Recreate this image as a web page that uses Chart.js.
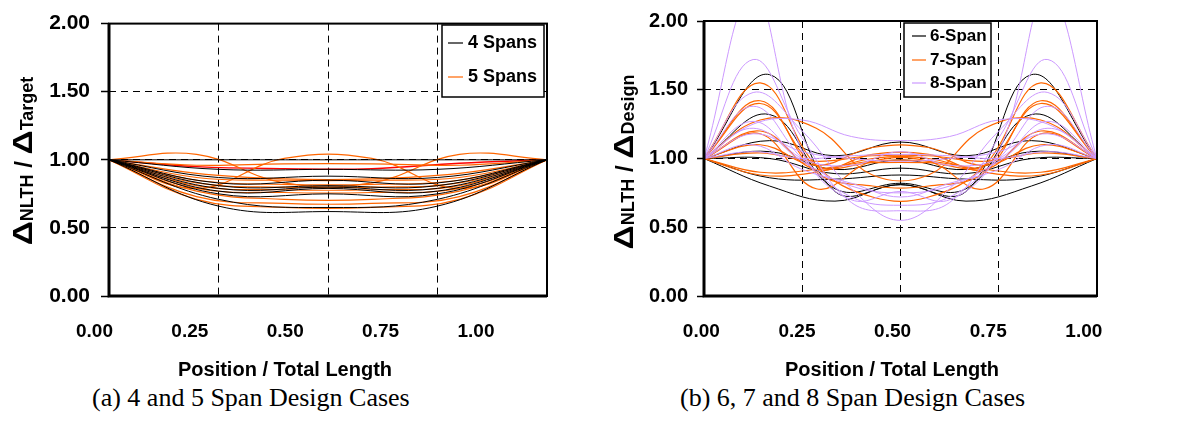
<!DOCTYPE html>
<html>
<head>
<meta charset="utf-8">
<script src="https://cdn.jsdelivr.net/npm/chart.js@4.4.0/dist/chart.umd.min.js"></script>
<style>
  body { margin: 0; background: #fff; width: 1181px; height: 426px; position: relative; overflow: hidden; }
  canvas { position: absolute; top: 0; }
  #c1 { left: 0; }
  #c2 { left: 590px; }
  .cap { position: absolute; top: 383px; font-family: "Liberation Serif", "Times New Roman", serif; font-size: 26px; line-height: 30px; white-space: nowrap; color: #000; }
</style>
</head>
<body>
<canvas id="c1" width="590" height="380"></canvas>
<canvas id="c2" width="591" height="380"></canvas>
<div class="cap" style="left:92px">(a) 4 and 5 Span Design Cases</div>
<div class="cap" style="left:680px">(b) 6, 7 and 8 Span Design Cases</div>
<script>
// axis ticks
const X_TICKS = [0, 0.25, 0.5, 0.75, 1];
const Y_TICKS = [0, 0.5, 1, 1.5, 2];

// (a) 4 spans - node positions and ratios
const X4 = [0, 0.25, 0.5, 0.75, 1];
const SPAN4 = [
  [1, 1.00, 1.00, 1.00, 1],
  [1, 0.93, 0.93, 0.93, 1],
  [1, 0.87, 0.88, 0.87, 1],
  [1, 0.83, 0.85, 0.83, 1],
  [1, 0.81, 0.81, 0.81, 1],
  [1, 0.79, 0.80, 0.79, 1],
  [1, 0.77, 0.79, 0.77, 1],
  [1, 0.75, 0.75, 0.75, 1],
  [1, 0.71, 0.65, 0.71, 1],
  [1, 0.66, 0.62, 0.66, 1]
];

// (a) 5 spans
const X5 = [0, 0.2, 0.4, 0.6, 0.8, 1];
const SPAN5 = [
  [1, 1.04, 0.83, 0.83, 1.04, 1],
  [1, 0.79, 1.01, 1.01, 0.79, 1],
  [1, 0.96, 0.97, 0.97, 0.96, 1],
  [1, 0.90, 0.86, 0.86, 0.90, 1],
  [1, 0.87, 0.85, 0.85, 0.87, 1],
  [1, 0.85, 0.82, 0.82, 0.85, 1],
  [1, 0.83, 0.80, 0.80, 0.83, 1],
  [1, 0.81, 0.78, 0.78, 0.81, 1],
  [1, 0.79, 0.76, 0.76, 0.79, 1],
  [1, 0.77, 0.71, 0.71, 0.77, 1],
  [1, 0.73, 0.68, 0.68, 0.73, 1],
  [1, 0.71, 0.65, 0.65, 0.71, 1]
];
const SPAN5_RED = [1, 0.95, 0.935, 0.935, 0.975, 1];

// (b) 6 spans
const X6 = [0, 0.1667, 0.3333, 0.5, 0.6667, 0.8333, 1];
const SPAN6 = [
  [1, 1.61, 0.76, 0.81, 0.76, 1.61, 1],
  [1, 1.32, 0.78, 0.82, 0.78, 1.32, 1],
  [1, 1.13, 1.02, 1.12, 1.02, 1.13, 1],
  [1, 1.05, 0.92, 0.99, 0.92, 1.05, 1],
  [1, 1.00, 0.89, 0.93, 0.89, 1.00, 1],
  [1, 0.86, 0.85, 0.88, 0.85, 0.86, 1],
  [1, 0.80, 0.69, 0.81, 0.69, 0.80, 1]
];

// (b) 7 spans
const X7 = [0, 0.1429, 0.2857, 0.4286, 0.5714, 0.7143, 0.8571, 1];
const SPAN7 = [
  [1, 1.55, 0.95, 0.72, 0.72, 0.95, 1.55, 1],
  [1, 1.42, 0.90, 0.80, 0.80, 0.90, 1.42, 1],
  [1, 1.40, 0.95, 0.97, 0.97, 0.95, 1.40, 1],
  [1, 1.28, 1.22, 0.88, 0.88, 1.22, 1.28, 1],
  [1, 1.20, 0.92, 1.03, 1.03, 0.92, 1.20, 1],
  [1, 1.18, 0.78, 0.98, 0.98, 0.78, 1.18, 1],
  [1, 1.10, 0.95, 1.08, 1.08, 0.95, 1.10, 1],
  [1, 1.04, 0.98, 1.02, 1.02, 0.98, 1.04, 1],
  [1, 0.90, 0.92, 0.98, 0.98, 0.92, 0.90, 1],
  [1, 0.88, 0.90, 1.00, 1.00, 0.90, 0.88, 1]
];

// (b) 8 spans
const X8 = [0, 0.125, 0.25, 0.375, 0.5, 0.625, 0.75, 0.875, 1];
const SPAN8 = [
  [1, 2.20, 1.05, 0.70, 0.76, 0.70, 1.05, 2.20, 1],
  [1, 1.72, 1.15, 0.68, 0.62, 0.68, 1.15, 1.72, 1],
  [1, 1.48, 1.20, 0.78, 0.55, 0.78, 1.20, 1.48, 1],
  [1, 1.38, 1.00, 0.72, 0.66, 0.72, 1.00, 1.38, 1],
  [1, 1.25, 1.28, 1.16, 1.13, 1.16, 1.28, 1.25, 1],
  [1, 1.27, 1.00, 0.95, 1.05, 0.95, 1.00, 1.27, 1],
  [1, 1.22, 0.98, 0.80, 0.75, 0.80, 0.98, 1.22, 1],
  [1, 1.18, 1.05, 1.00, 0.98, 1.00, 1.05, 1.18, 1],
  [1, 1.10, 0.92, 0.82, 0.72, 0.82, 0.92, 1.10, 1],
  [1, 1.05, 1.00, 1.02, 1.03, 1.02, 1.00, 1.05, 1]
];

const FONT = '"Liberation Sans", Arial, sans-serif';
const BLACK = "#000000", ORANGE = "#FF6600", RED = "#FF0000", LAVENDER = "#CC99FF";

Chart.defaults.font.family = FONT;
Chart.defaults.color = "#000";

function series(xs, rows, color, width) {
  return rows.map(r => ({
    data: xs.map((x, i) => ({ x: x, y: r[i] })),
    borderColor: color,
    borderWidth: width,
    pointRadius: 0,
    tension: 0.4,
    fill: false
  }));
}

const setTicks = list => s => { s.ticks = list.map(v => ({ value: v })); };

// frame round the plot area
const framePlugin = {
  id: "frame",
  afterDatasetsDraw(chart) {
    const { ctx, chartArea: a } = chart;
    ctx.save();
    ctx.strokeStyle = "#000";
    ctx.lineWidth = 2;
    ctx.strokeRect(a.left, a.top, a.right - a.left, a.bottom - a.top);
    ctx.lineWidth = 3;
    ctx.beginPath();
    ctx.moveTo(a.left, a.top);
    ctx.lineTo(a.left, a.bottom);
    ctx.lineTo(a.right, a.bottom);
    ctx.stroke();
    ctx.restore();
  }
};

function legendPlugin(cfg) {
  return {
    id: "boxLegend",
    afterDraw(chart) {
      const ctx = chart.ctx;
      const [bx, by, bw, bh] = cfg.box;
      ctx.save();
      ctx.fillStyle = "#fff";
      ctx.fillRect(bx, by, bw, bh);
      ctx.strokeStyle = "#000";
      ctx.lineWidth = 1.5;
      ctx.strokeRect(bx, by, bw, bh);
      ctx.font = "bold " + cfg.size + "px " + FONT;
      ctx.textBaseline = "middle";
      ctx.textAlign = "left";
      cfg.items.forEach((it, i) => {
        const y = cfg.rows[i];
        ctx.strokeStyle = it.color;
        ctx.lineWidth = 1.2;
        ctx.beginPath();
        ctx.moveTo(cfg.line[0], y);
        ctx.lineTo(cfg.line[1], y);
        ctx.stroke();
        ctx.fillStyle = "#000";
        ctx.fillText(it.label, cfg.textX, y);
      });
      ctx.restore();
    }
  };
}

// text runs along one baseline; sx stretches a run sideways
function drawRich(ctx, segs) {
  let total = 0;
  segs.forEach(s => { ctx.font = s.font; s.w = ctx.measureText(s.t).width * (s.sx || 1); total += s.w; });
  let x = -total / 2;
  segs.forEach(s => {
    ctx.font = s.font;
    ctx.save();
    ctx.translate(x, s.dy || 0);
    ctx.scale(s.sx || 1, 1);
    ctx.fillText(s.t, 0, 0);
    ctx.restore();
    x += s.w;
  });
}

function titlesPlugin(cfg) {
  return {
    id: "titles",
    afterDraw(chart) {
      const ctx = chart.ctx;
      ctx.save();
      ctx.fillStyle = "#000";
      // x title
      ctx.font = "bold 20px " + FONT;
      ctx.textAlign = "center";
      ctx.textBaseline = "middle";
      ctx.fillText("Position / Total Length", cfg.xTitle[0], cfg.xTitle[1]);
      // y title with subscripts
      ctx.translate(cfg.yTitle[0], cfg.yTitle[1]);
      ctx.rotate(-Math.PI / 2);
      ctx.textAlign = "left";
      ctx.textBaseline = "alphabetic";
      const big = "bold 28px " + FONT, small = "bold 18px " + FONT;
      drawRich(ctx, [
        { t: "\u0394", font: big, sx: 1.2 },
        { t: "NLTH", font: small, dy: 1 },
        { t: " / ", font: "bold 24px " + FONT },
        { t: "\u0394", font: big, sx: 1.2 },
        { t: cfg.sub, font: small, dy: 1 }
      ]);
      ctx.restore();
    }
  };
}

function makeChart(id, datasets, o) {
  return new Chart(document.getElementById(id), {
    type: "line",
    data: { datasets: datasets },
    options: {
      responsive: false,
      animation: false,
      events: [],
      layout: { padding: { top: 19, right: o.padRight, left: 0, bottom: 0 } },
      plugins: { legend: { display: false }, tooltip: { enabled: false } },
      scales: {
        x: {
          type: "linear", min: 0, max: 1, position: "bottom",
          afterBuildTicks: setTicks(X_TICKS),
          ticks: { display: false },
          grid: { color: "#000", lineWidth: 1, drawTicks: false },
          border: { display: false, dash: [7, 5] },
          afterFit: s => { s.height = 0; }
        },
        xl: {
          type: "linear", min: o.lab[0], max: o.lab[1], position: "bottom",
          afterBuildTicks: setTicks(X_TICKS),
          ticks: {
            autoSkip: false, maxRotation: 0, padding: 16, color: "#000",
            font: { family: FONT, size: 19, weight: "bold" },
            callback: v => v.toFixed(2)
          },
          grid: { display: false },
          border: { display: false },
          afterFit: s => { s.height = 84; }
        },
        y: {
          type: "linear", min: 0, max: 2,
          afterBuildTicks: setTicks(Y_TICKS),
          ticks: {
            padding: o.yPad, color: "#000",
            font: { family: FONT, size: o.ySize, weight: "bold" },
            callback: v => v.toFixed(2)
          },
          grid: { color: "#000", lineWidth: 1, drawTicks: true, tickLength: o.tickLen, tickColor: "#000", tickWidth: 1.5, tickBorderDash: [] },
          border: { display: false, dash: [7, 5] },
          afterFit: s => { s.width = o.yWidth; }
        }
      }
    },
    plugins: [framePlugin, legendPlugin(o.legend), titlesPlugin(o.titles)]
  });
}

// (a)
makeChart("c1",
  [].concat(
    series(X4, SPAN4, BLACK, 1),
    series(X5, SPAN5, ORANGE, 1.2),
    series(X5, [SPAN5_RED], RED, 1.4)
  ),
  {
    padRight: 43, yWidth: 109, yPad: 11, tickLen: 8, ySize: 21,
    lab: [0.0381, 1.1862],
    legend: {
      box: [442, 25, 102, 72], rows: [43, 77], line: [448, 463], textX: 468, size: 18,
      items: [{ label: "4 Spans", color: BLACK }, { label: "5 Spans", color: ORANGE }]
    },
    titles: { xTitle: [285, 370], yTitle: [32, 161], sub: "Target" }
  }
);

// (b)
makeChart("c2",
  [].concat(
    series(X8, SPAN8, LAVENDER, 1),
    series(X7, SPAN7, ORANGE, 1.2),
    series(X6, SPAN6, BLACK, 1)
  ),
  {
    padRight: 84, yWidth: 114, yPad: 9, tickLen: 7, ySize: 20,
    lab: [0.0069, 1.0344],
    legend: {
      box: [314, 23, 87, 74], rows: [36, 60, 83], line: [322, 336], textX: 340, size: 17,
      items: [{ label: "6-Span", color: BLACK }, { label: "7-Span", color: ORANGE }, { label: "8-Span", color: LAVENDER }]
    },
    titles: { xTitle: [302, 370], yTitle: [43, 162], sub: "Design" }
  }
);
</script>
</body>
</html>
